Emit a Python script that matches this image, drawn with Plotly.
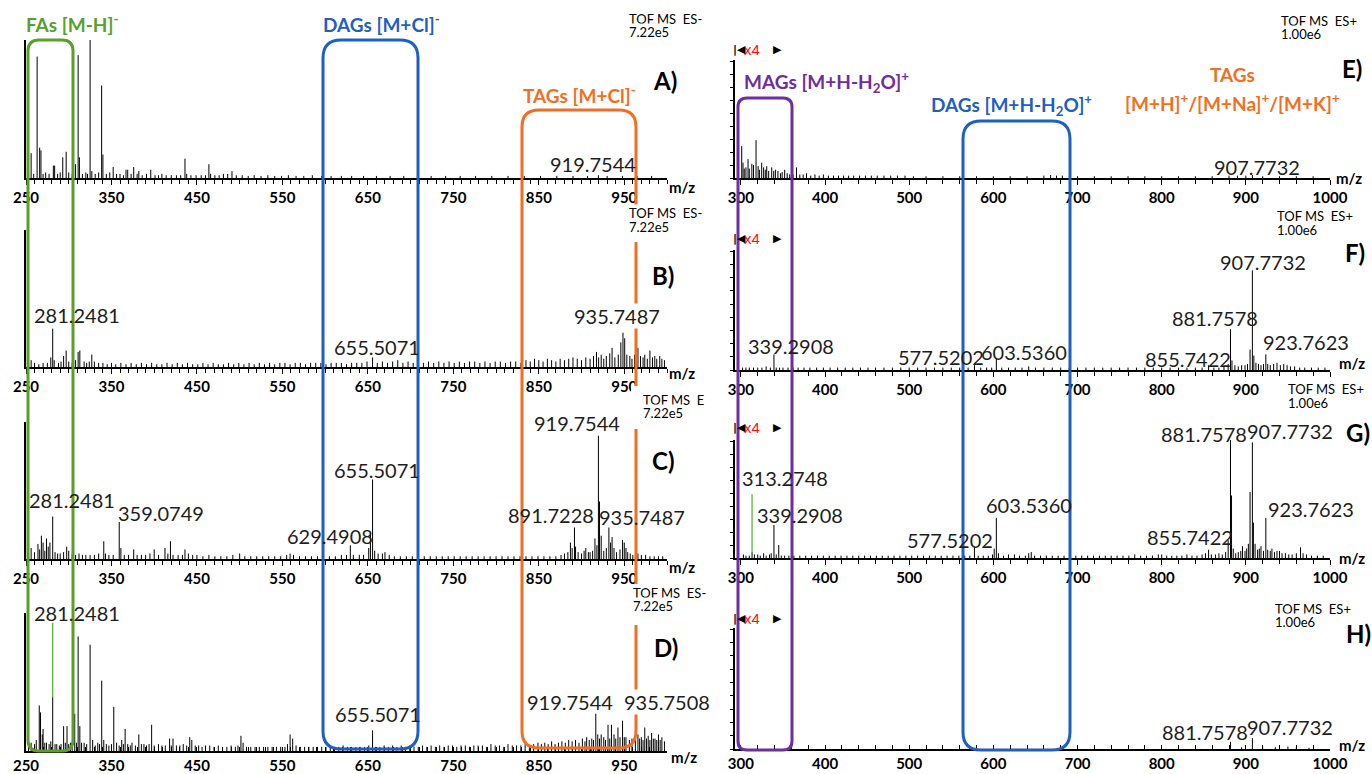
import plotly.graph_objects as go

W, H = 1372, 774

# ---------------- data ----------------
LEFT_TICKS = [250, 350, 450, 550, 650, 750, 850, 950]
RIGHT_TICKS = [300, 400, 500, 600, 700, 800, 900, 1000]

# (m/z, relative intensity %)
A_peaks = [(253,4),(256,18),(259,3),(263,88),(266,22),(267.5,20),(270,3),(273,4),(277,3),(282,9),
           (283.5,9),(287,3),(290,4),(293,15),(297,19),(300,4),(304,3),(308,10),(311,89),(312.5,15),
           (316,3),(320,4),(322,3),(325,100),(327,5),(331,3),(335,4),(338.5,67),(340,17),(344,3),
           (348,4),(352,8),(356,3),(360,3),(364,2),(367,6),(369,6),(373,3),(376,8),(380,3),
           (382,5),(386,2),(391,3),(396,6),(401,2),(405,2),(409,3),(414,2),(420,2),(426,2),
           (431,2),(436,14),(438,3),(443,2),(449,2),(455,2),(460,2),(464,10),(466,3),(471,2),
           (476,2),(481,3),(486,3),(491,5),(496,2),(503,2),(510,1.5),(517,2),(525,1.5),(533,2),
           (541,1.5),(549,1.5),(557,2),(566,1.5),(575,1.5),(585,2),(596,1.5),(607,1.5),(619,1.5),
           (631,1.5),(645,1.5),(660,1.5),(676,1.5),(692,1.5),(708,1.5),(724,1.5),(741,1.5),(758,1.5),
           (776,1.5),(795,1.5),(814,1.5),(833,1.5),(852,1.5),(871,1.5),(890,1.5),(907,1.5),
           (919.75,2),(930,1.5),(948,1.5),(965,1.5),(982,1.5)]

B_peaks = [(253,4),(256,5),(260,3),(265,2),(270,3),(275,3),(279,7),(281.25,28),(283,5),(288,3),
           (291,4),(294,8),(297,12),(300,4),(304,3),(308,5),(311,11),(313,12),(318,4),(321,3),
           (324,4),(327,9),(330,4),(335,3),(340,3),(345,2),(350,3),(355,2),(361,3),(367,2),
           (373,3),(379,2),(385,3),(391,2),(397,3),(403,2),(409,2),(415,3),(421,2),(427,3),
           (433,2),(439,3),(445,2),(451,2),(457,3),(463,2),(469,3),(475,2),(481,2),(487,3),
           (493,2),(499,3),(505,2),(511,3),(517,2),(523,3),(529,2),(535,3),(541,2),(547,3),
           (553,3),(559,2),(565,3),(571,3),(577,2),(583,3),(589,3),(595,3),(601,2),(607,3),
           (613,3),(619,3),(625,2),(631,3),(637,3),(643,3),(649,4),(655.5,7),(661,3),(667,4),
           (673,3),(679,4),(685,5),(691,3),(697,4),(703,3),(709,4),(715,3),(721,4),(727,3),
           (733,4),(739,3),(745,4),(751,3),(757,4),(763,3),(769,4),(775,4),(781,3),(787,4),
           (793,3),(799,4),(805,4),(811,3),(817,4),(823,4),(829,3),(835,5),(840,4),(845,6),
           (850,5),(855,4),(860,6),(865,5),(870,4),(875,6),(880,5),(885,6),(890,7),(895,6),
           (900,5),(905,7),(910,6),(914,8),(917.5,11),(920,7),(923,9),(926,6),(929,8),(933,10),
           (935.75,14),(939,7),(943,9),(946,18),(948.5,25),(950.5,21),(953,9),(956.5,8),(959,6),
           (962,9),(966,14),(969,8),(972,7),(974,9),(977,6),(980,12),(983,7),(985.7,8),(988,6),
           (991.5,8),(994,6),(997,5)]

C_peaks = [(253,4),(256,8),(260,5),(264,11),(266,7),(268,17),(270,12),(272,6),(274,15),(276,9),
           (278,12),(281.25,31),(284,5),(287,4),(290,4),(294,5),(297.6,9),(300,6),(304,4),(308,3),
           (312,4),(316,3),(320,3),(325,3),(330,3),(335,4),(341,13),(343,4),(347,3),(352,3),
           (359.07,27),(361,8),(365,3),(370,3),(376,7),(380,3),(385,3),(390,3),(395,4),(400,7),
           (405,3),(412.6,8),(416,4),(419,13),(422,3),(428,3),(433,3),(436,7),(440,4),(445,3),
           (450,3),(457,2),(464,3),(471,2),(478,2),(485,2),(492,3),(500,4),(506,2),(513,2),
           (520,2),(527,2),(534,2),(541,2),(548,2),(555,3),(559,4),(563,3),(570,2),(577,2),
           (584,2),(591,2),(598,2),(605,2),(612,2),(619,3),(625,3),(629.49,10),(633,3),(640,3),
           (645,3),(651,8),(653,19),(655.5,58),(658,6),(662,4),(667,4),(670,5),(675,3),(681,2),
           (688,2),(695,2),(702,2),(709,2),(716,2),(723,2),(730,2),(737,2),(744,2),(751,2),
           (758,2),(765,2),(772,2),(779,2),(786,2),(793,2),(800,2),(807,2),(814,2),(821,2),
           (828,2),(835,2),(842,2),(849,2),(856,2),(863,2),(870,2),(876,3),(880,4),(884,5),
           (887,12),(889,8),(891.72,23),(893,9),(896,5),(900,4),(903,6),(905,8),(908,5),(910,5),
           (913,6),(915.7,15),(918,10),(919.75,90),(921,42),(923,17),(926,6),(929,8),(932,23),(934,12),
           (935.75,16),(938,8),(941,5),(945,7),(948,14),(950,12),(952,8),(954,5),(957,4),(960,3),
           (963,3),(966,4),(970,3),(975,3),(980,2),(985,2),(990,2),(995,2)]

D_peaks = [(253,5),(256,6),(260,5),(262,8),(265.5,33),(267,28),(269,12),(270,16),(272,6),(274,6),
           (277,5),(279,7),(281.25,39),(284,5),(286,5),(289,4),(291,5),(294,18),(296,6),(298,18),
           (300,5),(302,6),(304,5),(307,27),(309,6),(311,83),(313,18),(315,6),(318,6),(321,5),
           (325,77),(328,8),(331,4),(334,6),(336,5),(338.6,51),(341,8),(344,5),(347,4),(350,5),
           (352.7,32),(356,6),(359,4),(362,8),(364,5),(366,16),(369,5),(372,4),(374,6),(378,4),
           (382,12),(385,5),(388,5),(391,4),(394,5),(397,19),(400,4),(405,5),(409,4),(413,4),
           (418,9),(420,4),(422,9),(426,4),(430,4),(434,5),(438,4),(441.6,10),(444,8),(448,4),
           (452,4),(456,3),(460,4),(465,4),(470,3),(475,4),(480,3),(485,3),(490,4),(495,3),
           (498,4),(501.5,11),(504,6),(508,3),(513,3),(518,3),(523,3),(528,3),(533,3),(538,3),
           (543,3),(548,3),(553,3),(556,5),(559,12),(562,9),(566,4),(571,3),(576,3),(581,3),
           (586,3),(591,3),(596,3),(601,3),(606,3),(611,3),(616,3),(621,4),(626,3),(631,3),
           (636,3),(641,3),(646,3),(651,4),(655.5,15),(659,3),(664,3),(669,4),(674,3),(679,4),
           (684,3),(689,4),(694,3),(699,4),(704,3),(709,3),(714,4),(719,3),(724,4),(729,3),
           (734,4),(739,3),(744,4),(749,4),(754,3),(759,4),(764,4),(769,3),(774,4),(779,4),
           (784,4),(789,3),(794,5),(799,4),(804,4),(809,3),(814,5),(819,4),(824,4),(829,4),
           (834,5),(839,4),(844,5),(849,6),(853,5),(857,6),(861,5),(865,7),(869,5),(873,6),
           (877,7),(881,6),(885,8),(889,7),(893,8),(897,6),(901,9),(904,7),(906,10),(909,8),
           (912,9),(914,8),(916.7,27),(919,12),(921,9),(923,12),(926,10),(928,8),(931,19),(933,9),
           (935,19),(938,12),(940,9),(942.6,17),(945,10),(948,22),(950,10),(952,10),(956,8),(959,9),
           (963,15),(966,12),(968,9),(970,10),(972,8),(974,17),(976,9),(978,11),(980,8),(982,13),
           (984,9),(986,9),(988,8),(990,12),(992,8),(994,10),(997,7)]

E_peaks = [(301,27),(302.5,13),(304,8),(306,9),(308.5,16),(310,8),(313,12),(315,11),(318,32),(320.5,10),
           (322,7),(324.7,13),(327,9),(329,7),(330.7,10),(333,6),(336.6,9),(339,6),(341,7),(344,6),
           (347,4),(349,5),(352,7),(355,4),(358,3),(362,3),(366,9),(370,3),(374,3),(378,4),
           (383,2),(388,3),(393,2),(398,3),(404,2),(410,2),(416,2),(422,2),(428,2),(434,2),
           (441,2),(448,2),(455,2),(462,2),(470,2),(478,2),(486,2),(495,2),(505,1.5),(520,1.5),
           (540,1.5),(560,1.5),(580,1.5),(600,1.5),(620,1.5),(640,1.5),(660,2),(668,2.5),(675,2),(682,2),
           (700,1.5),(720,1.5),(740,1.5),(760,1.5),(780,1.5),(800,1.5),(820,1.5),(840,1.5),(860,1.5),(880,2),
           (890,2),(900,2),(907.77,2.5),(920,1.5),(940,1.5),(960,1.5),(980,1.5)]

F_peaks = [(302,2),(306,2),(310,2),(315,2),(320,2),(325,2),(330,3),(335,2),(339.29,13),(342,2),
           (346,2),(350,2),(356,2),(362,2),(368,2),(375,2),(382,2),(390,2),(398,2),(406,2),
           (415,2),(424,2),(433,2),(442,2),(451,2),(460,2),(470,2),(480,2),(490,2),(500,2),
           (510,2),(520,2),(530,2),(540,2),(550,2),(560,2),(570,2),(577.52,4),(585,2),(592,2),
           (598,2),(603.54,10),(610,2),(618,2),(626,2),(634,2),(642,3),(650,2),(660,2),(670,2),
           (680,2),(690,2),(700,2),(710,2),(720,2),(730,2),(740,2),(750,2),(760,2),(770,2),
           (780,2),(790,2),(800,2),(810,2),(820,2),(830,2),(840,2),(848,2),(855.74,4),(862,2),
           (868,2),(874,3),(879,5),(881.76,34),(883.5,8),(887,4),(891,3),(895,4),(899,4),(902,5),
           (905,17),(907.77,83),(909.5,12),(912,6),(915,5),(918,4),(921,5),(923.76,13),(926,5),(929,4),
           (933,5),(937,6),(941,4),(945,5),(949,4),(953,3),(958,3),(964,2),(970,2),(978,2),
           (986,2),(994,2)]

G_peaks = [(303,3),(306,2),(310,2),(313.27,5),(316,3),(320,3),(323,2),(327,4),(330,2),(334,3),
           (336,4),(339.29,28),(342,3),(345,11),(348,2),(352,2),(357,2),(363,2),(370,2),(377,2),
           (384,2),(391,2),(398,2),(405,2),(412,2),(419,2),(426,2),(433,2),(440,2),(447,2),
           (454,2),(461,2),(468,2),(475,2),(482,2),(489,2),(496,2),(503,2),(510,2),(517,2),
           (524,2),(531,2),(538,2),(545,2),(552,2),(559,2),(566,2),(572,2),(577.52,9),(582,2),
           (588,2),(594,2),(599,3),(601,8),(603.54,34),(606,4),(612,2),(618,3),(625,3),(631,2),
           (638,2),(642,4),(645,5),(649,2),(656,2),(663,2),(670,2),(677,2),(684,2),(691,2),
           (698,2),(705,2),(712,2),(719,2),(726,2),(733,2),(740,2),(747,2),(754,2),(761,2),
           (768,3),(775,2),(782,2),(789,2),(796,3),(800,3),(806,2),(812,2),(818,2),(824,2),
           (830,3),(836,2),(842,2),(848,3),(852,4),(855.74,7),(859,3),(864,3),(868,4),(872,3),
           (876,5),(879,15),(881.76,100),(883,53),(885,8),(888,4),(891,5),(894,6),(896,10),(899,6),
           (901,8),(903,12),(905,56),(907.77,98),(909,30),(911,12),(914,7),(916,8),(918,10),(921,6),
           (923.76,34),(926,7),(929,6),(931,8),(934,5),(937,6),(940,6),(943,4),(947,4),(951,3),
           (955,3),(960,4),(965,9),(968,4),(972,3),(978,2),(985,2),(992,2)]

H_peaks = [(881.76,6),(895,1.5),(907.77,9),(920,2),(935,1.5),(950,2),(960,1.5),(975,1)]

# green-highlighted peak segments: (m/z, from %, to %)
D_green = [(281.25, 39, 93)]
G_green = [(313.27, 5, 54)]

# peak labels per panel
A_labels = ["919.7544"]
B_labels = ["281.2481", "655.5071", "935.7487"]
C_labels = ["281.2481", "359.0749", "629.4908", "655.5071", "919.7544", "891.7228", "935.7487"]
D_labels = ["281.2481", "655.5071", "919.7544", "935.7508"]
E_labels = ["907.7732"]
F_labels = ["907.7732", "881.7578", "923.7623", "855.7422", "339.2908", "577.5202", "603.5360"]
G_labels = ["881.7578", "907.7732", "923.7623", "855.7422", "603.5360", "577.5202", "313.2748", "339.2908"]
H_labels = ["881.7578", "907.7732"]

SCAN_NEG = ["TOF MS  ES-", "7.22e5"]
SCAN_POS = ["TOF MS  ES+", "1.00e6"]

# ---------------- layout geometry (pixels) ----------------
GREEN, BLUE, ORANGE, PURPLE = "#5a9e2c", "#1f5fc2", "#f26f21", "#6f2da0"
FONT = "Lato"

def X(px):
    return px / W

def Y(py):
    return 1 - py / H

COLS = {
    "L": dict(x0=26, x1=667, rng=[250, 1000], ticks=LEFT_TICKS, minor=10, mtick0=250),
    "R": dict(x0=735, x1=1330, rng=[293, 1000], ticks=RIGHT_TICKS, minor=20, mtick0=300),
}

# name, peaks, column, axis top px, baseline px, tick direction, hidden tick labels
panels = [
    ("A", A_peaks, "L", 40, 178, "outside", []),
    ("B", B_peaks, "L", 230, 367, "outside", []),
    ("C", C_peaks, "L", 422, 559, "outside", []),
    ("D", D_peaks, "L", 613, 751, "inside", []),
    ("E", E_peaks, "R", 60, 178, "outside", []),
    ("F", F_peaks, "R", 250, 370, "outside", [1000]),
    ("G", G_peaks, "R", 440, 558, "outside", []),
    ("H", H_peaks, "R", 628, 749, "inside", []),
]

def sticks(peaks):
    xs, ys = [], []
    for m, v in peaks:
        xs += [m, m, None]
        ys += [0, v, None]
    return xs, ys

fig = go.Figure()
layout = dict(template="none", width=W, height=H, autosize=False,
              margin=dict(l=0, r=0, t=0, b=0, pad=0, autoexpand=False),
              paper_bgcolor="white", plot_bgcolor="rgba(0,0,0,0)", showlegend=False)

green_map = {"D": D_green, "G": G_green}

for i, (name, peaks, col, top, base, tdir, hidden) in enumerate(panels, start=1):
    c = COLS[col]
    xs, ys = sticks(peaks)
    xa = "x" if i == 1 else f"x{i}"
    ya = "y" if i == 1 else f"y{i}"
    fig.add_trace(go.Scatter(x=xs, y=ys, mode="lines", line=dict(color="black", width=1),
                             xaxis=xa, yaxis=ya, hoverinfo="skip", cliponaxis=False))
    for m, lo, hi in green_map.get(name, []):
        fig.add_trace(go.Scatter(x=[m, m], y=[lo, hi], mode="lines",
                                 line=dict(color="#4caf2a", width=1.2),
                                 xaxis=xa, yaxis=ya, hoverinfo="skip"))
    key = "" if i == 1 else str(i)
    layout["xaxis" + key] = dict(
        domain=[X(c["x0"]), X(c["x1"])], range=c["rng"], autorange=False, anchor=ya,
        automargin=False,
        showline=True, linecolor="black", linewidth=2, showgrid=False, zeroline=False,
        ticks=tdir, ticklen=5 if tdir == "outside" else 4, tickwidth=1.3, tickcolor="black",
        tickmode="array", tickvals=c["ticks"],
        ticktext=["" if t in hidden else str(t) for t in c["ticks"]],
        tickfont=dict(family=FONT, size=15, color="black", weight="bold"),
        minor=dict(ticks=tdir, ticklen=4, tickwidth=1, tickcolor="black",
                   tickmode="linear", tick0=c["mtick0"], dtick=c["minor"], showgrid=False),
        fixedrange=True)
    ydict = dict(domain=[Y(base), Y(top)], range=[0, 100], autorange=False, anchor=xa,
                 automargin=False,
                 showline=True, linecolor="black", linewidth=1.5, showgrid=False,
                 zeroline=False, showticklabels=False, fixedrange=True)
    if col == "R":
        ydict.update(ticks="outside", ticklen=3, tickwidth=1, tickcolor="black",
                     tickmode="linear", tick0=0, dtick=11)
    else:
        ydict.update(ticks="")
    layout["yaxis" + key] = ydict

fig.update_layout(**layout)

# ---------------- highlight boxes ----------------
def rounded_box(x0, y0, x1, y1, r):
    return (f"M {X(x0 + r)},{Y(y0)} L {X(x1 - r)},{Y(y0)} Q {X(x1)},{Y(y0)} {X(x1)},{Y(y0 + r)} "
            f"L {X(x1)},{Y(y1 - r)} Q {X(x1)},{Y(y1)} {X(x1 - r)},{Y(y1)} "
            f"L {X(x0 + r)},{Y(y1)} Q {X(x0)},{Y(y1)} {X(x0)},{Y(y1 - r)} "
            f"L {X(x0)},{Y(y0 + r)} Q {X(x0)},{Y(y0)} {X(x0 + r)},{Y(y0)} Z")

boxes = [
    (28, 40, 73, 751, 11, GREEN),
    (323, 40, 418, 749, 18, BLUE),
    (522, 110, 636, 748, 17, ORANGE),
    (738, 98, 792, 750, 9, PURPLE),
    (963, 121, 1070, 750, 18, BLUE),
]
for x0, y0, x1, y1, r, colr in boxes:
    fig.add_shape(type="path", path=rounded_box(x0, y0, x1, y1, r), xref="paper", yref="paper",
                  line=dict(color=colr, width=3), fillcolor="rgba(0,0,0,0)", layer="above")

# white patches where the scan-descriptor blocks interrupt the orange frame
for y0, y1 in [(206, 242), (386, 429), (584, 625)]:
    fig.add_shape(type="rect", x0=X(631), x1=X(641), y0=Y(y1), y1=Y(y0), xref="paper", yref="paper",
                  line=dict(width=0), fillcolor="white", layer="above")

# ---------------- annotations ----------------
def ann(text, x, y, size, color="black", xanchor="center", bg=None, family=FONT):
    fig.add_annotation(text=text, x=X(x), y=Y(y), xref="paper", yref="paper", showarrow=False,
                       xanchor=xanchor, yanchor="middle",
                       font=dict(family=family, size=size, color=color),
                       bgcolor=bg if bg else "rgba(0,0,0,0)", borderpad=0)

# peak labels (position in pixels, white background where they hide box lines)
label_pos = {
    "A": [(593, 164, False)],
    "B": [(77, 315, False), (377, 347, False), (617, 316, True)],
    "C": [(72, 500, False), (161, 513, False), (330, 536, False), (377, 470, False),
          (577, 423, False), (551, 515, False), (642, 517, False)],
    "D": [(77, 613, False), (378, 714, False), (570, 702, False), (667, 702, True)],
    "E": [(1257, 167, False)],
    "F": [(1263, 262, False), (1215, 318, False), (1306, 342, False), (1188, 359, False),
          (791, 346, False), (941, 357, False), (1024, 352, False)],
    "G": [(1204, 434, False), (1290, 431, False), (1311, 509, False), (1190, 537, False),
          (1029, 505, False), (950, 540, False), (785, 478, False), (800, 515, False)],
    "H": [(1205, 732, False), (1290, 727, False)],
}
label_text = {"A": A_labels, "B": B_labels, "C": C_labels, "D": D_labels,
              "E": E_labels, "F": F_labels, "G": G_labels, "H": H_labels}
for k, texts in label_text.items():
    for t, (px, py, bg) in zip(texts, label_pos[k]):
        ann(t, px, py, 20, "#1e1e1e", bg="white" if bg else None)

# scan descriptors
scan_pos = {
    "A": (628, 19, 32, SCAN_NEG[0]), "B": (628, 213, 227, SCAN_NEG[0]),
    "C": (642, 400, 413, "TOF MS  E"), "D": (632, 593, 606, SCAN_NEG[0]),
    "E": (1280, 21, 34, SCAN_POS[0]), "F": (1276, 216, 230, SCAN_POS[0]),
    "G": (1287, 389, 403, SCAN_POS[0]), "H": (1274, 609, 622, SCAN_POS[0]),
}
for k, (px, y1, y2, t1) in scan_pos.items():
    second = SCAN_NEG[1] if k in "ABCD" else SCAN_POS[1]
    ann(t1, px, y1, 13, xanchor="left", bg="white")
    ann(second, px, y2, 13, xanchor="left", bg="white")

# panel letters
letters = [("A)", 665, 80), ("B)", 663, 275), ("C)", 663, 460), ("D)", 666, 647),
           ("E)", 1352, 68), ("F)", 1355, 252), ("G)", 1358, 432), ("H)", 1358, 633)]
for t, px, py in letters:
    ann(f"<b>{t}</b>", px, py, 24)

# m/z axis titles
for px, py in [(682, 187), (682, 373), (682, 567), (684, 757),
               (1349, 178), (1352, 363), (1352, 558), (1352, 745)]:
    ann("<b>m/z</b>", px, py, 15)

# x4 zoom markers on the ES+ panels
for py in [50, 238, 428, 618]:
    ann("<b>|◀</b>", 739, py, 11, "black", family="DejaVu Sans")
    ann("x4", 752, py, 15, "#ff1010", family="Liberation Sans Narrow, Liberation Sans")
    ann("<b>▶</b>", 777, py, 11, "black", family="DejaVu Sans")

# box titles
box_titles = [
    ("<b>FAs [M-H]<sup>-</sup></b>", 25, 23, GREEN, "left"),
    ("<b>DAGs [M+Cl]<sup>-</sup></b>", 322, 23, BLUE, "left"),
    ("<b>TAGs [M+Cl]<sup>-</sup></b>", 522, 95, ORANGE, "left"),
    ("<b>MAGs [M+H-H<sub>2</sub>O]<sup>+</sup></b>", 743, 82, PURPLE, "left"),
    ("<b>DAGs [M+H-H<sub>2</sub>O]<sup>+</sup></b>", 930, 105, BLUE, "left"),
    ("<b>TAGs</b>", 1232, 75, ORANGE, "center"),
    ("<b>[M+H]<sup>+</sup>/[M+Na]<sup>+</sup>/[M+K]<sup>+</sup></b>", 1232, 102, ORANGE, "center"),
]
for t, px, py, colr, anc in box_titles:
    ann(t, px, py, 19, colr, xanchor=anc)

fig.write_html("out.html", config={"displayModeBar": False},
               post_script="document.body.style.margin='0';document.body.style.overflow='hidden';")
